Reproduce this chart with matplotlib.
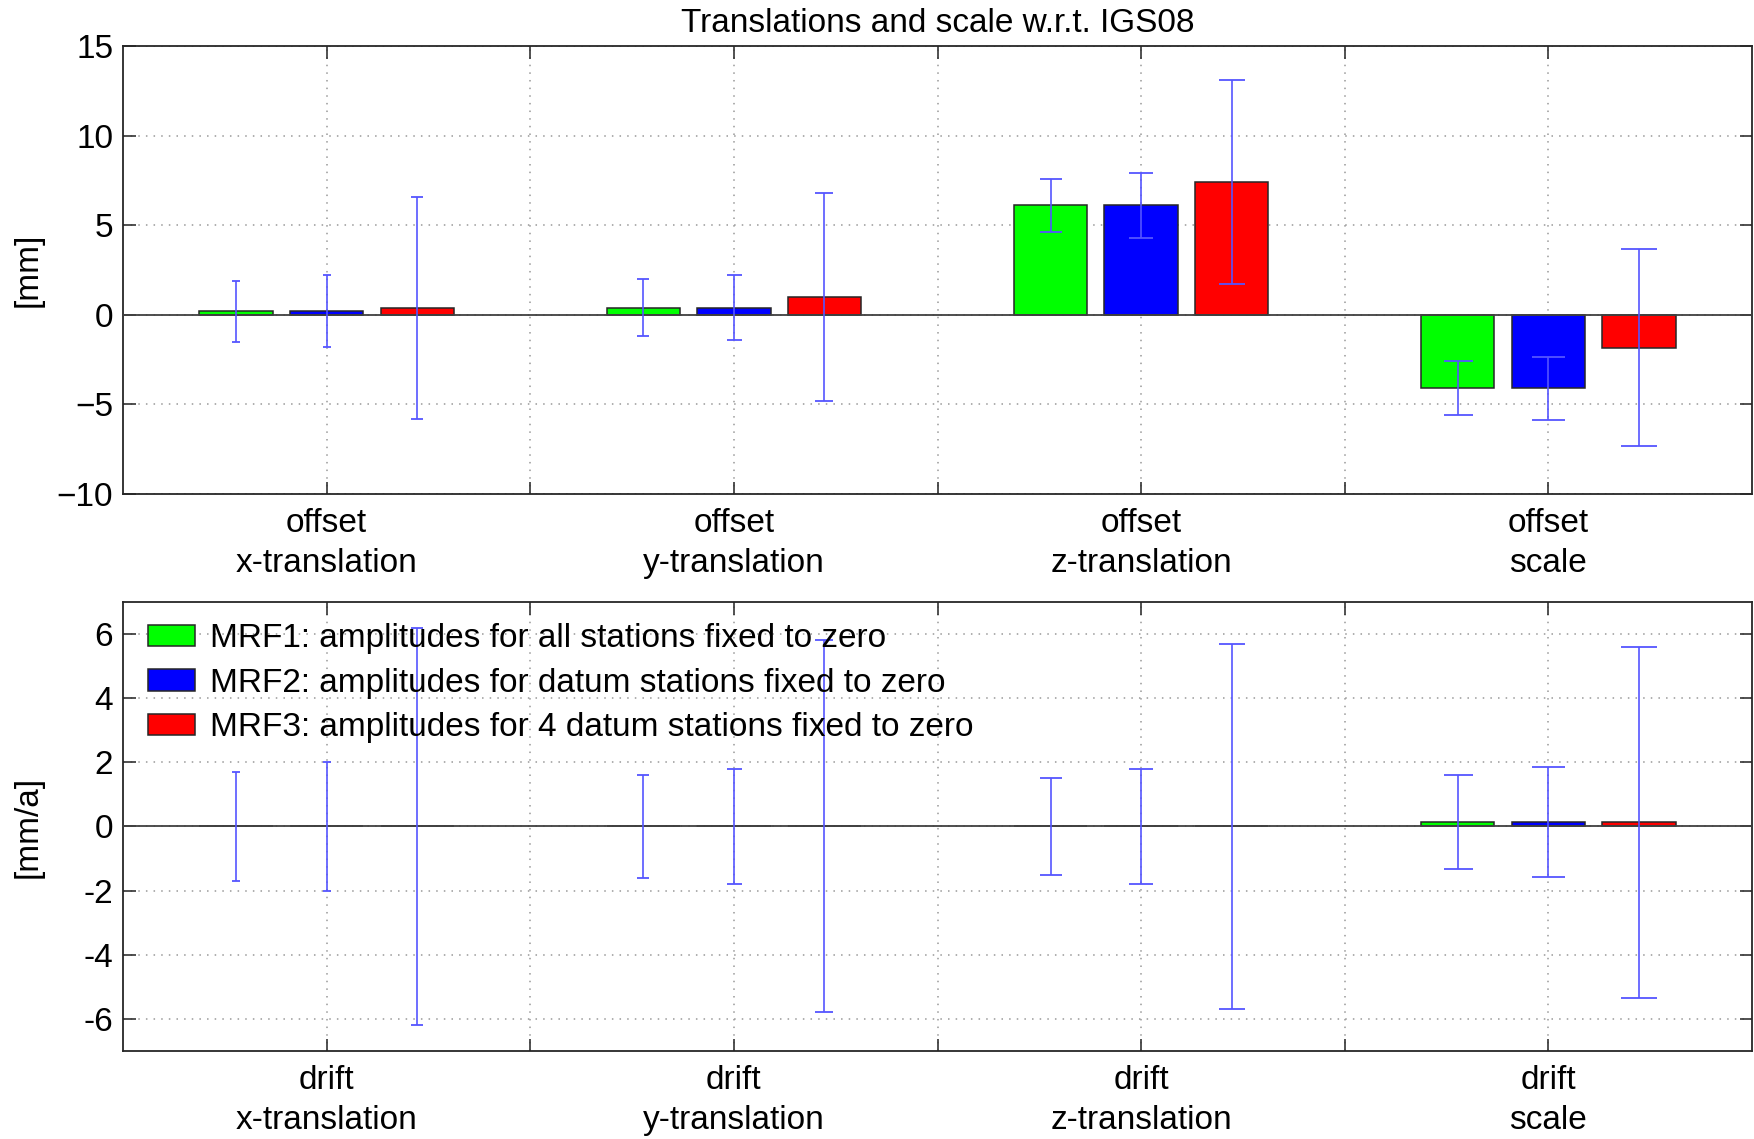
import matplotlib.pyplot as plt
import numpy as np

plt.rcParams['font.family'] = ['Liberation Sans', 'DejaVu Sans']

categories = ['x-translation', 'y-translation', 'z-translation', 'scale']
series_names = ['MRF1: amplitudes for all stations fixed to zero',
                'MRF2: amplitudes for datum stations fixed to zero',
                'MRF3: amplitudes for 4 datum stations fixed to zero']

# offsets [mm]
offset_mrf1 = [0.2, 0.4, 6.1, -4.1]
offset_mrf2 = [0.2, 0.4, 6.1, -4.1]
offset_mrf3 = [0.4, 1.0, 7.4, -1.85]
offset_err1 = [1.7, 1.6, 1.5, 1.5]
offset_err2 = [2.0, 1.8, 1.8, 1.75]
offset_err3 = [6.2, 5.8, 5.7, 5.5]

# drifts [mm/a]
drift_mrf1 = [0.0, 0.0, 0.0, 0.13]
drift_mrf2 = [0.0, 0.0, 0.0, 0.13]
drift_mrf3 = [0.0, 0.0, 0.0, 0.13]
drift_err1 = [1.7, 1.6, 1.5, 1.47]
drift_err2 = [2.0, 1.8, 1.8, 1.72]
drift_err3 = [6.2, 5.8, 5.7, 5.48]

colors = ['#00ff00', '#0000ff', '#ff0000']
err_color = '#5555ff'
offsets = [-0.445, 0.0, 0.445]
bar_w = 0.36
# cap widths in pixels, per category and series (matlab draws them growing with x)
cap_px = [[7.5, 8, 11.5], [11.5, 15, 18], [22, 24, 27], [29, 33, 36]]

fs = 24
fig = plt.figure(figsize=(17.54, 11.39), dpi=100)
ax1 = fig.add_axes([0.0701, 0.5663, 0.9288, 0.3933])
ax2 = fig.add_axes([0.0701, 0.0773, 0.9288, 0.3942])

xc = np.arange(len(categories)) * 2 + 1


def draw_panel(ax, vals, errs, prefix, ylim, yticks, yticklabels, ylabel):
    handles = []
    for s in range(3):
        h = ax.bar(xc + offsets[s], vals[s], width=bar_w, color=colors[s],
                   edgecolor='0.15', linewidth=1.1, zorder=3, label=series_names[s])
        handles.append(h)
    for s in range(3):
        for i in range(len(categories)):
            # capsize is half the cap length, in points
            ax.errorbar(xc[i] + offsets[s], vals[s][i], yerr=errs[s][i], fmt='none',
                        ecolor=err_color, elinewidth=1.2, capsize=cap_px[i][s] * 0.72 / 2,
                        capthick=1.3, zorder=4)
    ax.axhline(0, color='0.25', lw=1.3, zorder=3.5)
    ax.set_xlim(0, 8)
    ax.set_ylim(*ylim)
    xt = np.arange(1, 8)
    ax.set_xticks(xt)
    labels = []
    for t in xt:
        if t % 2 == 1:
            labels.append(prefix + '\n' + categories[(t - 1) // 2])
        else:
            labels.append('')
    ax.set_xticklabels(labels, fontsize=fs, linespacing=1.4)
    ax.set_yticks(yticks)
    ax.set_yticklabels(yticklabels, fontsize=fs)
    ax.tick_params(direction='in', length=9, width=1.2, top=True, right=True, color='0.2')
    ax.tick_params(axis='x', pad=10)
    ax.tick_params(axis='y', pad=7)
    ax.grid(True, linestyle=(0, (1, 4)), color='0.6', lw=1.1, zorder=1)
    ax.set_axisbelow(True)
    for sp in ax.spines.values():
        sp.set_linewidth(1.3)
        sp.set_color('0.15')
    ax.set_ylabel(ylabel, fontsize=fs)
    ax.yaxis.set_label_coords(-0.049, 0.5)
    return handles


draw_panel(ax1, [offset_mrf1, offset_mrf2, offset_mrf3],
           [offset_err1, offset_err2, offset_err3], 'offset',
           (-10, 15), [-10, -5, 0, 5, 10, 15],
           ['\u221210', '\u22125', '0', '5', '10', '15'], '[mm]')
h = draw_panel(ax2, [drift_mrf1, drift_mrf2, drift_mrf3],
               [drift_err1, drift_err2, drift_err3], 'drift',
               (-7, 7), [-6, -4, -2, 0, 2, 4, 6],
               ['-6', '-4', '-2', '0', '2', '4', '6'], '[mm/a]')

ax1.set_title('Translations and scale w.r.t. IGS08', fontsize=fs, pad=10)

ax2.legend(handles=h, loc='upper left', frameon=False, fontsize=fs,
           handlelength=1.4, handleheight=0.62, labelspacing=0.4,
           handletextpad=0.45, borderaxespad=0.35, borderpad=0.4,
           bbox_to_anchor=(0.0, 1.008))

plt.savefig('out.png', dpi=100)
